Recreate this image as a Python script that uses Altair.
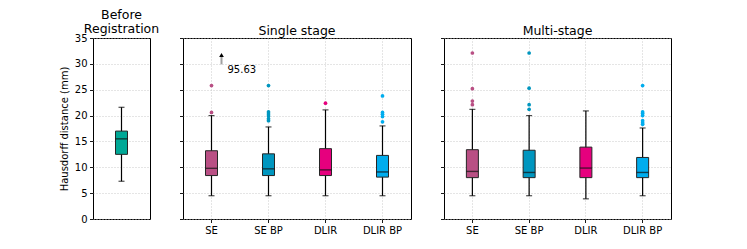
import altair as alt
import pandas as pd

FONT = "DejaVu Sans"

# ---------------- data ----------------
methods = ["SE", "SE BP", "DLIR", "DLIR BP"]
method_colors = ["#B94F84", "#0096BF", "#E6007E", "#00ADEE"]
before_label = ["Before"]
before_color = ["#00A896"]

before_lo = [7.3]
before_q1 = [12.5]
before_med = [15.5]
before_q3 = [17.0]
before_hi = [21.6]

single_lo = [4.5, 4.5, 4.5, 4.5]
single_q1 = [8.4, 8.4, 8.4, 8.1]
single_med = [9.8, 9.7, 9.5, 9.1]
single_q3 = [13.2, 12.6, 13.6, 12.3]
single_hi = [20.0, 17.8, 21.1, 18.0]
single_out_se = [25.8, 20.6, 95.63]
single_out_sebp = [25.8, 20.7, 20.3, 19.9, 19.4, 19.0]
single_out_dlir = [22.4]
single_out_dlirbp = [23.8, 20.6, 20.25, 19.8, 18.8]

multi_lo = [4.5, 4.5, 3.9, 4.5]
multi_q1 = [8.0, 8.0, 8.0, 8.0]
multi_med = [9.2, 9.0, 9.85, 9.0]
multi_q3 = [13.4, 13.3, 13.9, 11.9]
multi_hi = [21.2, 20.0, 20.9, 17.6]
multi_out_se = [32.1, 25.2, 22.8, 22.1]
multi_out_sebp = [32.1, 25.3, 22.1, 21.2]
multi_out_dlir = []
multi_out_dlirbp = [25.8, 20.7, 20.4, 20.0, 19.0, 18.6, 18.3]

# annotation for off-scale outlier (single stage, SE)
annot_method = ["SE"]
annot_value = ["95.63"]
annot_shaft_lo = [29.9]
annot_shaft_hi = [31.4]
annot_head = [31.7]
annot_text_y = [28.9]

y_ticks = [0, 5, 10, 15, 20, 25, 30, 35]
y_max = 35

# ---------------- helpers ----------------
def stats_frame(cats, lo, q1, med, q3, hi):
    return pd.DataFrame({"method": cats, "lo": lo, "q1": q1, "med": med, "q3": q3, "hi": hi})


def outlier_frame(cats, lists):
    rows = []
    for c, vals in zip(cats, lists):
        for v in vals:
            if v <= y_max:
                rows.append({"method": c, "value": v})
    return pd.DataFrame(rows, columns=["method", "value"])


yscale = alt.Scale(domain=[0, y_max], nice=False, zero=True)


def panel(stats, outl, cats, cols, width, title, first=False, show_x=True, extra=None):
    xenc = alt.X(
        "method:N",
        sort=cats,
        scale=alt.Scale(domain=cats, paddingInner=0, paddingOuter=0),
        axis=alt.Axis(
            title=None,
            labels=show_x,
            ticks=show_x,
            grid=show_x,
            labelAngle=0,
        ),
    )
    if first:
        yaxis = alt.Axis(values=y_ticks, title="Hausdorff distance (mm)", titlePadding=5,
                         labelOverlap=False, grid=True)
    else:
        yaxis = alt.Axis(values=y_ticks, title=None, labels=False, grid=True)
    color = alt.Color("method:N", scale=alt.Scale(domain=cats, range=cols), legend=None)

    def Y(field):
        return alt.Y(field, scale=yscale, axis=yaxis)

    base = alt.Chart(stats)
    whisk = base.mark_rule(color="black", strokeWidth=1.2).encode(
        x=xenc, y=Y("lo:Q"), y2="hi:Q"
    )
    box = base.mark_bar(size=12, stroke="#262626", strokeWidth=1).encode(
        x=xenc, y=Y("q1:Q"), y2="q3:Q", color=color
    )
    med = base.mark_tick(color="#111111", size=12, thickness=1.4).encode(
        x=xenc, y=Y("med:Q")
    )
    cap_lo = base.mark_tick(color="black", size=6, thickness=1.2).encode(
        x=xenc, y=Y("lo:Q")
    )
    cap_hi = base.mark_tick(color="black", size=6, thickness=1.2).encode(
        x=xenc, y=Y("hi:Q")
    )
    layers = [whisk, box, med, cap_lo, cap_hi]
    if len(outl):
        pts = alt.Chart(outl).mark_circle(size=14, opacity=1).encode(
            x=xenc, y=Y("value:Q"), color=color
        )
        layers.append(pts)
    if extra is not None:
        layers.extend(extra(xenc, Y))
    return alt.layer(*layers).properties(width=width, height=181, title=title)


def annotation(xenc, Y):
    adf = pd.DataFrame({
        "method": annot_method,
        "lo": annot_shaft_lo,
        "hi": annot_shaft_hi,
        "head": annot_head,
        "ty": annot_text_y,
        "label": annot_value,
    })
    b = alt.Chart(adf)
    shaft = b.mark_rule(color="#A0A0A0", strokeWidth=2, xOffset=10).encode(
        x=xenc, y=Y("lo:Q"), y2="hi:Q"
    )
    head = b.mark_point(shape="triangle-up", filled=True, color="black", size=22, opacity=1, xOffset=10).encode(
        x=xenc, y=Y("head:Q")
    )
    txt = b.mark_text(align="left", baseline="middle", dx=16, fontSize=10, font=FONT, color="black").encode(
        x=xenc, y=Y("ty:Q"), text="label:N"
    )
    return [shaft, head, txt]


before_stats = stats_frame(before_label, before_lo, before_q1, before_med, before_q3, before_hi)
before_out = outlier_frame(before_label, [[]])
single_stats = stats_frame(methods, single_lo, single_q1, single_med, single_q3, single_hi)
single_out = outlier_frame(methods, [single_out_se, single_out_sebp, single_out_dlir, single_out_dlirbp])
multi_stats = stats_frame(methods, multi_lo, multi_q1, multi_med, multi_q3, multi_hi)
multi_out = outlier_frame(methods, [multi_out_se, multi_out_sebp, multi_out_dlir, multi_out_dlirbp])

p1 = panel(before_stats, before_out, before_label, before_color, 57,
           alt.Title(["Before", "Registration"], lineHeight=13.5, offset=-2), first=True, show_x=False)
p2 = panel(single_stats, single_out, methods, method_colors, 228,
           alt.Title("Single stage", offset=0.5), extra=annotation)
p3 = panel(multi_stats, multi_out, methods, method_colors, 227,
           alt.Title("Multi-stage", offset=0.5))

chart = (
    alt.hconcat(p1, p2, p3, spacing=33, bounds="flush")
    .resolve_scale(color="independent", x="independent")
    .properties(padding={"left": 50, "top": 0, "right": 5, "bottom": 0})
    .configure(font=FONT)
    .configure_view(stroke="black", strokeWidth=1)
    .configure_axis(
        domain=False,
        labelFont=FONT,
        labelFontSize=10,
        labelColor="black",
        titleFont=FONT,
        titleFontSize=10,
        titleFontWeight="normal",
        titleColor="black",
        tickColor="black",
        tickSize=3.5,
        tickWidth=0.9,
        labelPadding=2.5,
        gridColor="#BDBDBD",
        gridDash=[1, 2],
        gridWidth=0.8,
    )
    .configure_title(font=FONT, fontSize=12.5, fontWeight="normal", color="black")
)

chart.save("out.html", embed_options={"renderer": "svg", "actions": False})
